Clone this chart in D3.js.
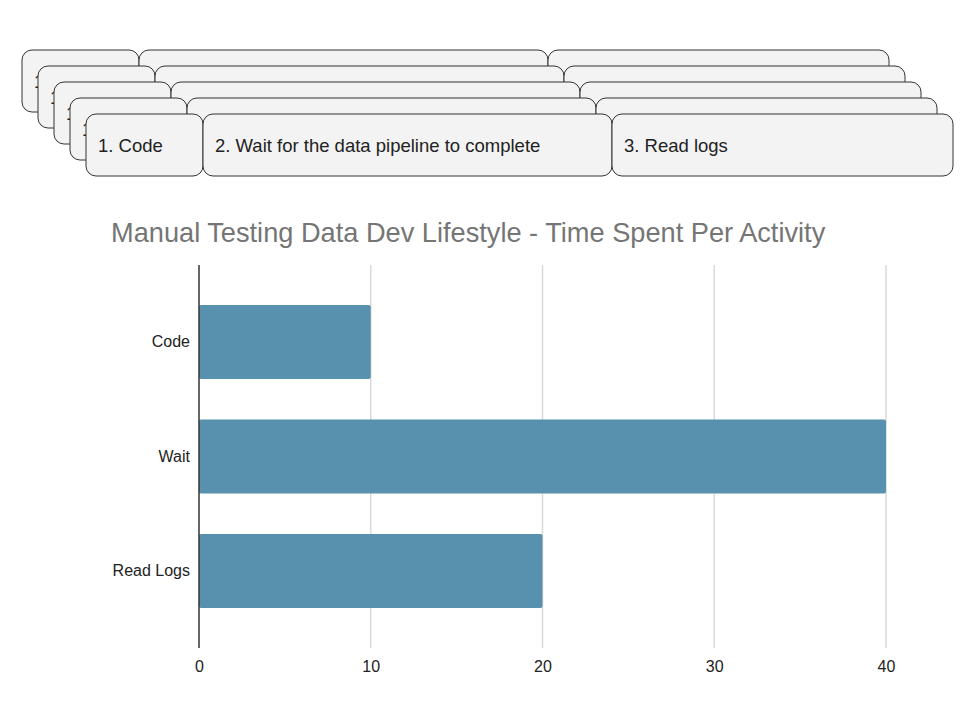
<!DOCTYPE html>
<html>
<head>
<meta charset="utf-8">
<script src="https://cdn.jsdelivr.net/npm/d3@7"></script>
<style>
  body { margin: 0; background: #fff; }
  svg { display: block; font-family: "Liberation Sans", Arial, sans-serif; }
</style>
</head>
<body>
<div class="canvas"></div>
<script>
// data
const steps = ['1. Code', '2. Wait for the data pipeline to complete', '3. Read logs']
const activities = ['Code', 'Wait', 'Read Logs']
const minutes = [10, 40, 20]
const xTicks = [0, 10, 20, 30, 40]
const title = 'Manual Testing Data Dev Lifestyle - Time Spent Per Activity'

// layout
const width = 960
const height = 720
const boxEdges = [0, 117, 526, 867]
const layers = 5
const layerShift = 16
const boxHeight = 62

const svg = d3.select('.canvas')
  .append('svg')
  .attr('width', width)
  .attr('height', height)

// stacked step boxes, back layer first
const header = svg.append('g')

d3.range(layers).forEach(layer => {
  const g = header.append('g')
    .attr('transform', `translate(${22 + layer * layerShift}, ${50 + layer * layerShift})`)

  steps.forEach((step, i) => {
    const box = g.append('g').attr('transform', `translate(${boxEdges[i]}, 0)`)
    box.append('rect')
      .attr('width', boxEdges[i + 1] - boxEdges[i])
      .attr('height', boxHeight)
      .attr('rx', 10)
      .attr('fill', '#f3f3f3')
      .attr('stroke', '#333')
      .attr('stroke-width', 1)
    // only the front layer's labels can be read; the rest peek out at the edges
    box.append('text')
      .attr('x', 12)
      .attr('y', 37.5)
      .attr('font-size', 18.5)
      .attr('fill', '#222')
      .text(layer === layers - 1 ? step : step.slice(0, 1))
  })
})

// chart
const margin = {top: 265, left: 199, right: 74, bottom: 72}

svg.append('text')
  .attr('x', 111)
  .attr('y', 242)
  .attr('font-size', 27.2)
  .attr('fill', '#757575')
  .text(title)

const x = d3.scaleLinear()
  .domain([0, 40])
  .range([margin.left, width - margin.right])

const y = d3.scaleBand()
  .domain(activities)
  .range([margin.top, height - margin.bottom])
  .paddingInner(0.354)
  .paddingOuter(0.35)

const grid = svg.append('g')
grid.selectAll('line')
  .data(xTicks.filter(t => t !== 0))
  .enter().append('line')
  .attr('x1', d => x(d))
  .attr('x2', d => x(d))
  .attr('y1', margin.top)
  .attr('y2', height - margin.bottom)
  .attr('stroke', '#d9d9d9')
  .attr('stroke-width', 1.5)

svg.append('g')
  .selectAll('rect')
  .data(activities)
  .enter().append('rect')
  .attr('x', x(0))
  .attr('y', d => y(d))
  .attr('width', (d, i) => x(minutes[i]) - x(0))
  .attr('height', y.bandwidth())
  .attr('rx', 2)
  .attr('fill', '#5891ae')

// zero line
svg.append('line')
  .attr('x1', x(0))
  .attr('x2', x(0))
  .attr('y1', margin.top)
  .attr('y2', height - margin.bottom)
  .attr('stroke', '#333')
  .attr('stroke-width', 1.5)

const xAxis = svg.append('g')
  .attr('transform', `translate(0, ${height - margin.bottom})`)
  .call(d3.axisBottom(x).tickValues(xTicks).tickSize(0).tickPadding(13))
xAxis.select('.domain').remove()
xAxis.selectAll('text')
  .attr('font-size', 16)
  .attr('font-family', '"Liberation Sans", Arial, sans-serif')
  .attr('fill', '#222')

const yAxis = svg.append('g')
  .attr('transform', `translate(${margin.left}, 0)`)
  .call(d3.axisLeft(y).tickSize(0).tickPadding(9))
yAxis.select('.domain').remove()
yAxis.selectAll('text')
  .attr('font-size', 16)
  .attr('font-family', '"Liberation Sans", Arial, sans-serif')
  .attr('fill', '#222')
</script>
</body>
</html>
